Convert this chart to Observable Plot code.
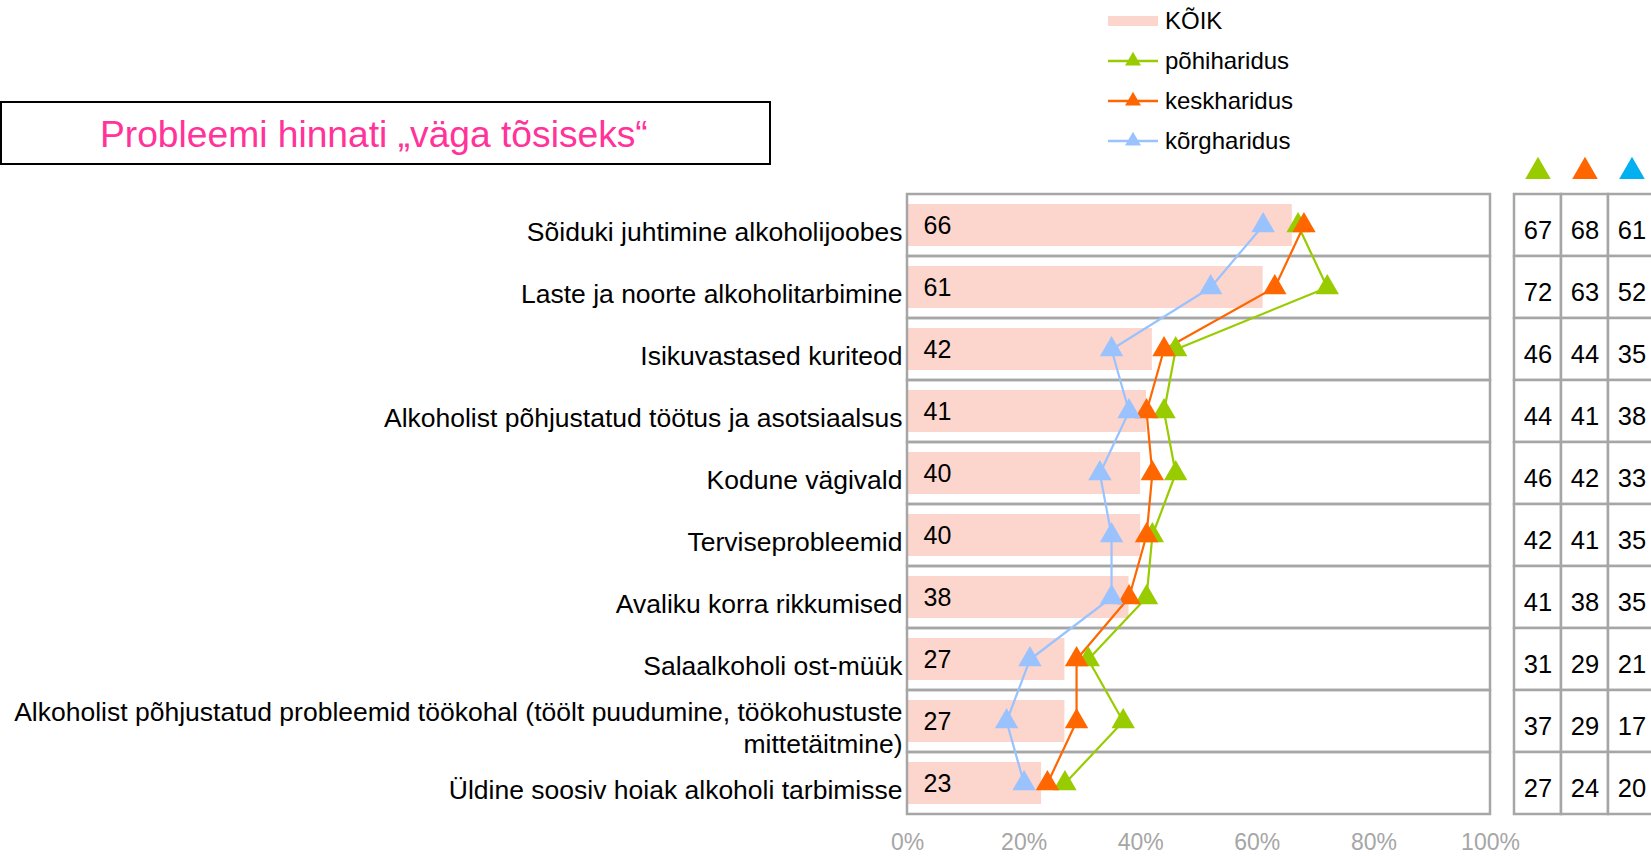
<!DOCTYPE html>
<html>
<head>
<meta charset="utf-8">
<script src="https://cdn.jsdelivr.net/npm/d3@7"></script>
<script src="https://cdn.jsdelivr.net/npm/@observablehq/plot@0.6"></script>
<style>
  html, body { margin: 0; padding: 0; overflow: hidden; background: #fff; }
  #root { position: relative; width: 1651px; height: 857px; font-family: "Liberation Sans", Arial, sans-serif; overflow: hidden; }
  #root > * { position: absolute; }
  #root svg { max-width: none !important; }
  #title { left: 0; top: 101px; width: 767px; height: 60px; border: 2px solid #000; box-sizing: content-box;
           color: #FF3399; font-size: 37.2px; line-height: 62px; }
  #title span { position: absolute; left: 98px; top: 0; white-space: nowrap; }
  .leg { position: absolute; left: 1108px; height: 28px; display: flex; align-items: center; font-size: 24px; color: #000; white-space: nowrap; }
  .leg span { margin-left: 7px; }
</style>
</head>
<body>
<div id="root">
  <div id="chart" style="left:0;top:0"></div>
  <div id="table" style="left:1495px;top:0;width:170px"></div>
  <div id="title"><span>Probleemi hinnati „väga tõsiseks“</span></div>
  <div id="legend" style="left:0;top:0"></div>
</div>
<script>
// ---- data ----
const categories = [
  "Sõiduki juhtimine alkoholijoobes",
  "Laste ja noorte alkoholitarbimine",
  "Isikuvastased kuriteod",
  "Alkoholist põhjustatud töötus ja asotsiaalsus",
  "Kodune vägivald",
  "Terviseprobleemid",
  "Avaliku korra rikkumised",
  "Salaalkoholi ost-müük",
  "Alkoholist põhjustatud probleemid töökohal (töölt puudumine, töökohustuste mittetäitmine)",
  "Üldine soosiv hoiak alkoholi tarbimisse"
];
const koik        = [66, 61, 42, 41, 40, 40, 38, 27, 27, 23];
const pohiharidus = [67, 72, 46, 44, 46, 42, 41, 31, 37, 27];
const keskharidus = [68, 63, 44, 41, 42, 41, 38, 29, 29, 24];
const korgharidus = [61, 52, 35, 38, 33, 35, 35, 21, 17, 20];
const seriesNames = ["põhiharidus", "keskharidus", "kõrgharidus"];
const allName = "KÕIK";
const xTicks = [0, 20, 40, 60, 80, 100];
const xDomain = [0, 100];

// ---- styles ----
const barColor = "#FCD6CC";
const lineColors = ["#99CC00", "#FF6600", "#99C2FF"];
const headerColors = ["#99CC00", "#FF6600", "#00B0F0"];
const gridColor = "#A6A6A6";
const font = "'Liberation Sans', Arial, sans-serif";

const seriesValues = [pohiharidus, keskharidus, korgharidus];
const points = seriesNames.flatMap((s, si) =>
  categories.map((c, i) => ({series: s, cat: c, value: seriesValues[si][i]})));
const bars = categories.map((c, i) => ({cat: c, value: koik[i]}));

const labelFmt = d => d.replace(" töökohustuste mittetäitmine)", " töökohustuste\nmittetäitmine)");

const chart = Plot.plot({
  width: 1651, height: 857,
  marginLeft: 907, marginRight: 161, marginTop: 192, marginBottom: 41,
  style: {fontFamily: font, fontSize: "26px", color: "#000", background: "transparent", maxWidth: "none"},
  x: {domain: xDomain},
  y: {domain: categories, padding: 0},
  color: {domain: seriesNames, range: lineColors},
  marks: [
    Plot.barX(bars, {y: "cat", x: "value", fill: barColor, insetTop: 10, insetBottom: 10}),
    Plot.barX(categories, {y: d => d, x1: () => xDomain[0], x2: () => xDomain[1], fill: "none", stroke: gridColor, strokeWidth: 2.5}),
    Plot.text(bars, {y: "cat", x: () => xDomain[0], text: "value", textAnchor: "start", dx: 16, fontSize: 25, fill: "#000"}),
    Plot.line(points, {x: "value", y: "cat", z: "series", stroke: "series", strokeWidth: 2.2}),
    Plot.dot(points, {x: "value", y: "cat", fill: "series", symbol: "triangle", r: 8.7}),
    Plot.axisY({tickSize: 0, tickPadding: 5, tickFormat: labelFmt, fontSize: 26.5, lineHeight: 1.2, dy: 5, label: null}),
    Plot.axisX({ticks: xTicks, tickSize: 0, tickPadding: 17, tickFormat: d => d + "%", color: gridColor, fontSize: 23, label: null})
  ]
});
document.getElementById("chart").appendChild(chart);

const table = Plot.plot({
  width: 165, height: 857,
  marginLeft: 18, marginRight: 5, marginTop: 192, marginBottom: 41,
  style: {fontFamily: font, fontSize: "26px", color: "#000", background: "transparent", maxWidth: "none"},
  x: {domain: seriesNames, padding: 0, axis: null},
  y: {domain: categories, padding: 0, axis: null},
  color: {domain: seriesNames, range: headerColors},
  marks: [
    Plot.cell(points, {x: "series", y: "cat", fill: "white", stroke: gridColor, strokeWidth: 2.5}),
    Plot.text(points, {x: "series", y: "cat", text: "value", fontSize: 25.5, dy: 5, fill: "#000"}),
    Plot.dot(seriesNames, {x: d => d, frameAnchor: "top", dy: -21, symbol: "triangle", fill: d => d, r: 9.5})
  ]
});
document.getElementById("table").appendChild(table);

// ---- legend ----
const legend = d3.select("#legend");
const legItems = [allName, ...seriesNames];
legItems.forEach((name, i) => {
  const row = legend.append("div").attr("class", "leg").style("top", (21 + 40 * i - 14) + "px");
  const svg = row.append("svg").attr("width", 50).attr("height", 28);
  if (i === 0) {
    svg.append("rect").attr("x", 0).attr("y", 9).attr("width", 50).attr("height", 10).attr("fill", barColor);
  } else {
    const c = lineColors[i - 1];
    svg.append("line").attr("x1", 0).attr("x2", 50).attr("y1", 14).attr("y2", 14).attr("stroke", c).attr("stroke-width", 2.5);
    svg.append("path").attr("d", d3.symbol(d3.symbolTriangle, 110)()).attr("transform", "translate(25,14)").attr("fill", c);
  }
  row.append("span").text(name);
});
</script>
</body>
</html>
